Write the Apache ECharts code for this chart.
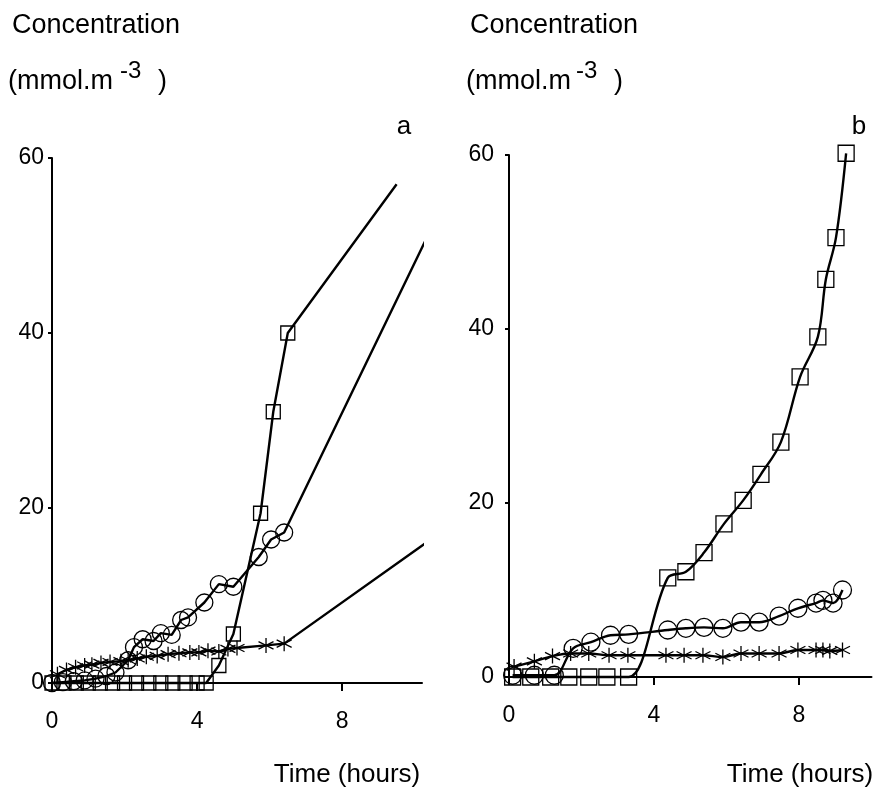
<!DOCTYPE html>
<html><head><meta charset="utf-8">
<script src="https://cdn.jsdelivr.net/npm/echarts@6/dist/echarts.min.js"></script>
<style>html,body{margin:0;padding:0;background:#fff}#c{width:876px;height:794px}</style>
</head><body><div id="c"></div>
<script>
// ---- data (time in hours, concentration in mmol.m-3) ----
const xTicks = [0, 4, 8];
const yTicks = [0, 20, 40, 60];
// Panel a
const aSquares = [[0,0],[0.33,0],[0.67,0],[1.0,0],[1.33,0],[1.67,0],[2.0,0],[2.33,0],[2.67,0],[3.0,0],[3.33,0],[3.67,0],[4.0,0],[4.25,0],[4.6,2.0],[5.0,5.6],[5.75,19.4],[6.1,31],[6.5,40]];
const aSquaresEnd = [9.5,57];
const aCircles = [[0,0],[0.3,0.1],[0.6,0.2],[0.9,0.3],[1.2,0.5],[1.5,0.8],[1.75,1.2],[2.1,2.6],[2.26,4.1],[2.5,5.0],[2.8,4.8],[3.0,5.7],[3.3,5.5],[3.56,7.2],[3.75,7.5],[4.2,9.2],[4.6,11.3],[5.0,11.0],[5.7,14.4],[6.04,16.4],[6.4,17.2]];
const aCirclesEnd = [10.3,50.6];
const aStars = [[0.15,1.0],[0.4,1.5],[0.65,1.8],[0.9,2.0],[1.1,2.1],[1.35,2.3],[1.6,2.4],[1.9,2.5],[2.1,2.6],[2.35,2.8],[2.6,3.0],[2.9,3.1],[3.2,3.3],[3.5,3.4],[3.8,3.5],[4.05,3.5],[4.3,3.7],[4.6,3.6],[4.85,3.9],[5.1,4.0],[5.9,4.3],[6.4,4.5]];
const aStarsEnd = [10.3,16];
// Panel b
const bSquares = [[0.1,0],[0.6,0],[1.15,0],[1.65,0],[2.2,0],[2.7,0],[3.3,0],[4.38,11.4],[4.88,12.1],[5.38,14.3],[5.93,17.6],[6.46,20.3],[6.95,23.3],[7.5,27],[8.03,34.5],[8.52,39.1],[8.74,45.7],[9.02,50.5],[9.3,60.2]];
const bCircles = [[0.1,0.2],[0.7,0.2],[1.25,0.2],[1.77,3.3],[2.26,4.0],[2.8,4.8],[3.3,4.9],[4.38,5.4],[4.88,5.6],[5.38,5.7],[5.9,5.6],[6.4,6.3],[6.9,6.3],[7.45,7.0],[7.97,7.9],[8.47,8.5],[8.66,8.8],[8.94,8.5],[9.2,10.0]];
const bStars = [[0.14,1.2],[0.7,1.8],[1.2,2.4],[1.7,2.7],[2.2,2.7],[2.76,2.5],[3.28,2.5],[4.33,2.5],[4.83,2.5],[5.35,2.5],[5.9,2.3],[6.4,2.7],[6.9,2.7],[7.45,2.7],[7.97,3.1],[8.47,3.1],[8.66,3.1],[8.85,3.0],[9.2,3.1]];

const STAR = 'path://M0,-10L0,10M-8.66,-5L8.66,5M-8.66,5L8.66,-5';
function withEnd(arr, end){ return arr.map(p=>({value:p})).concat(end?[{value:end, symbol:'none'}]:[]); }
function ser(idx, data, symbol, size, smooth){
  return {type:'line', xAxisIndex:idx, yAxisIndex:idx, data, symbol, symbolSize:size, smooth,
    showAllSymbol:true, clip:false,
    lineStyle:{color:'#000', width:2.4},
    itemStyle:{color:'rgba(0,0,0,0)', borderColor:'#000', borderWidth:1.3},
    emphasis:{disabled:true}, z:2};
}
const FONT = 'Liberation Sans, Arial, Helvetica, sans-serif';
function xAx(idx, max){
  return {type:'value', gridIndex:idx, min:0, max, interval:4,
    axisLine:{show:true, lineStyle:{color:'#000', width:2}},
    axisTick:{show:true, customValues:xTicks, length:8, lineStyle:{color:'#000', width:2}},
    axisLabel:{customValues:xTicks, color:'#000', fontSize:23, fontFamily:FONT, margin:27},
    splitLine:{show:false}};
}
function yAx(idx, margin){
  return {type:'value', gridIndex:idx, min:0, max:60, interval:20,
    axisLine:{show:true, onZero:false, lineStyle:{color:'#000', width:2}},
    axisTick:{show:true, length:4, lineStyle:{color:'#000', width:2}},
    axisLabel:{color:'#000', fontSize:23, fontFamily:FONT, margin},
    splitLine:{show:false}};
}
function txt(x, y, t, size, align){
  return {type:'text', x, y, style:{text:t, fill:'#000', font:(size||27)+'px '+FONT, textAlign:align||'left', textVerticalAlign:'middle'}};
}
const chart = echarts.init(document.getElementById('c'), null, {renderer:'canvas'});
chart.setOption({
  animation:false,
  backgroundColor:'#fff',
  grid:[{left:52, top:158, width:370, height:525},{left:509, top:155, width:362.5, height:522}],
  xAxis:[xAx(0,10.2), xAx(1,10)],
  yAxis:[yAx(0,8), yAx(1,15)],
  series:[
    ser(0, withEnd(aSquares,aSquaresEnd), 'rect', 14, false),
    ser(0, withEnd(aCircles,aCirclesEnd), 'circle', 17, false),
    ser(0, withEnd(aStars,aStarsEnd), STAR, 15, false),
    ser(1, withEnd(bSquares,null), 'rect', 16, 0.35),
    ser(1, withEnd(bCircles,null), 'circle', 18, 0.35),
    ser(1, withEnd(bStars,null), STAR, 15, 0.35)
  ],
  graphic:[
    txt(12, 26, 'Concentration'), txt(8, 82, '(mmol.m'), txt(120, 71, '-3', 24), txt(158, 82, ')'),
    txt(470, 26, 'Concentration'), txt(466, 82, '(mmol.m'), txt(576, 71, '-3', 24), txt(614, 82, ')'),
    txt(404, 127, 'a', 26, 'center'), txt(859, 127, 'b', 26, 'center'),
    txt(347, 775, 'Time (hours)', 26, 'center'), txt(800, 775, 'Time (hours)', 26, 'center')
  ]
});
</script></body></html>
